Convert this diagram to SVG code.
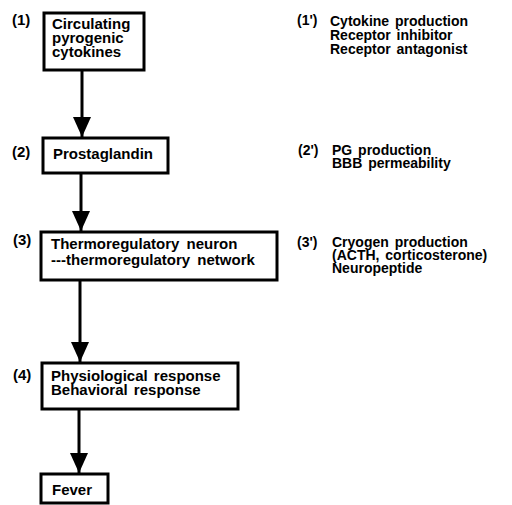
<svg xmlns="http://www.w3.org/2000/svg" width="512" height="505" viewBox="0 0 512 505">
<defs>
<marker id="ah" markerWidth="20" markerHeight="18" refX="20" refY="9" orient="auto" markerUnits="userSpaceOnUse" viewBox="0 0 20 18">
<path d="M0,0 L20,9 L0,18 Z" fill="#000"/>
</marker>
</defs>
<style>
text{font-family:"Liberation Sans",Arial,sans-serif;font-weight:bold;font-size:15px;fill:#000}
.box{fill:#fff;stroke:#000;stroke-width:3}
.side{font-size:14px}
.edge{stroke:#000;stroke-width:3;fill:none}
</style>
<rect width="512" height="505" fill="#fff"/>
<g id="connectors">
<line class="edge" x1="82" y1="70" x2="82" y2="137" marker-end="url(#ah)"/>
<line class="edge" x1="81" y1="173" x2="81" y2="231" marker-end="url(#ah)"/>
<line class="edge" x1="80" y1="280" x2="80" y2="362" marker-end="url(#ah)"/>
<line class="edge" x1="79" y1="409" x2="79" y2="473" marker-end="url(#ah)"/>
</g>
<g id="node1">
<text x="12" y="25">(1)</text>
<rect class="box" x="44" y="13" width="100" height="57"/>
<text x="52" y="29">Circulating</text>
<text x="52" y="43">pyrogenic</text>
<text x="52" y="57">cytokines</text>
</g>
<g id="node2">
<text x="12" y="157">(2)</text>
<rect class="box" x="43" y="138" width="125" height="35"/>
<text x="53" y="159">Prostaglandin</text>
</g>
<g id="node3">
<text x="13" y="245">(3)</text>
<rect class="box" x="41" y="232" width="236" height="48"/>
<text x="51" y="249" word-spacing="3">Thermoregulatory neuron</text>
<text x="51" y="265" word-spacing="3">---thermoregulatory network</text>
</g>
<g id="node4">
<text x="13" y="380">(4)</text>
<rect class="box" x="42" y="363" width="196" height="46"/>
<text x="51" y="381" word-spacing="2">Physiological response</text>
<text x="51" y="395" word-spacing="2">Behavioral response</text>
</g>
<g id="fever">
<rect class="box" x="41" y="474" width="67" height="29"/>
<text x="52" y="495">Fever</text>
</g>
<g id="side1">
<text class="side" x="297" y="25">(1')</text>
<text class="side" x="330" y="26" word-spacing="2">Cytokine production</text>
<text class="side" x="330" y="40" word-spacing="2">Receptor inhibitor</text>
<text class="side" x="330" y="54" word-spacing="2">Receptor antagonist</text>
</g>
<g id="side2">
<text class="side" x="298" y="155">(2')</text>
<text class="side" x="332" y="155" word-spacing="2">PG production</text>
<text class="side" x="332" y="168" word-spacing="2">BBB permeability</text>
</g>
<g id="side3">
<text class="side" x="297" y="247">(3')</text>
<text class="side" x="332" y="247" word-spacing="2">Cryogen production</text>
<text class="side" x="332" y="260" word-spacing="2">(ACTH, corticosterone)</text>
<text class="side" x="332" y="273">Neuropeptide</text>
</g>
</svg>
